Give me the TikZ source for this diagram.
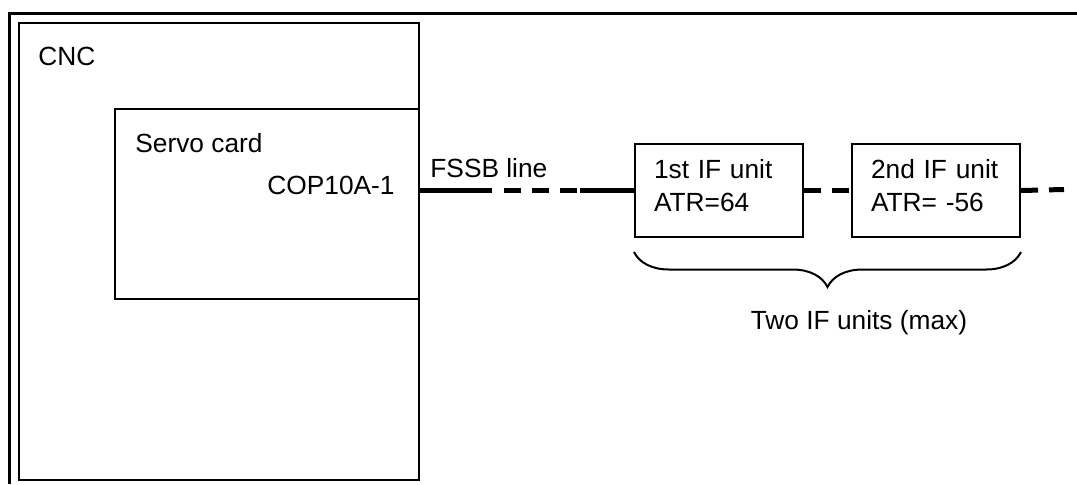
\documentclass[tikz,border=0pt]{standalone}
\usepackage{fontspec}
\setmainfont{Liberation Sans}
\usetikzlibrary{positioning, decorations.pathreplacing}

\begin{document}
\begin{tikzpicture}[x=0.5pt, y=-0.5pt,
  every node/.style={font=\fontsize{13.15}{16.5}\selectfont},
  label/.style={inner sep=0pt},
  block/.style={draw, line width=1pt, anchor=north west, inner sep=0pt},
  ifunit/.style={draw, line width=1pt, anchor=north west, align=left, text width=65pt, inner xsep=9.5pt, inner ysep=0pt, minimum width=84pt, minimum height=46.5pt, execute at end node=\strut},
  fssb/.style={line width=2.5pt},
  outerline/.style={line width=1.5pt}
]
\useasboundingbox (0,0) rectangle (1077,484);

\node[block, minimum width=200pt, minimum height=228.5pt] (cnc) at (18,22) {};
\node[block, minimum width=152pt, minimum height=95pt] (servo) at (114,108) {};
\node[label, anchor=base west] (cnclabel) at (38,65) {CNC};
\node[label, anchor=base west] (servolabel) at (135,152) {Servo card};
\node[label, anchor=base east] (port) at (395,194) {COP10A-1};
\node[label, anchor=base west] (linelabel) at (430,177) {FSSB line};
\node[ifunit] (unit1) at (634,143) {1st IF unit\\ATR=64};
\node[ifunit] (unit2) at (851,143) {2nd IF unit\\ATR= -56};
\node[label, anchor=base] (maxlabel) at (859,329) {Two IF units (max)};
\coordinate (tail) at (1064,189.5);

\draw[outerline] (9.5,484) -- (9.5,13.5) -- (1077,13.5);

\draw[fssb, dash pattern=on 36pt off 6pt on 8.5pt off 5.5pt on 8.5pt off 5.5pt on 8.5pt off 1.5pt on 28pt off 10pt] (servo.east |- unit1.west) -- (unit1.west);
\draw[fssb, dash pattern=on 8.5pt off 5.5pt] (unit1.east) -- (unit2.west);
\draw[fssb, dash pattern=on 8.5pt off 5.5pt] (unit2.east) -- (tail);

\draw[line width=1pt, decorate, decoration={brace, amplitude=17.5pt, mirror}] ([yshift=-7pt]unit1.south west) -- ([yshift=-7pt]unit2.south east);
\end{tikzpicture}
\end{document}
